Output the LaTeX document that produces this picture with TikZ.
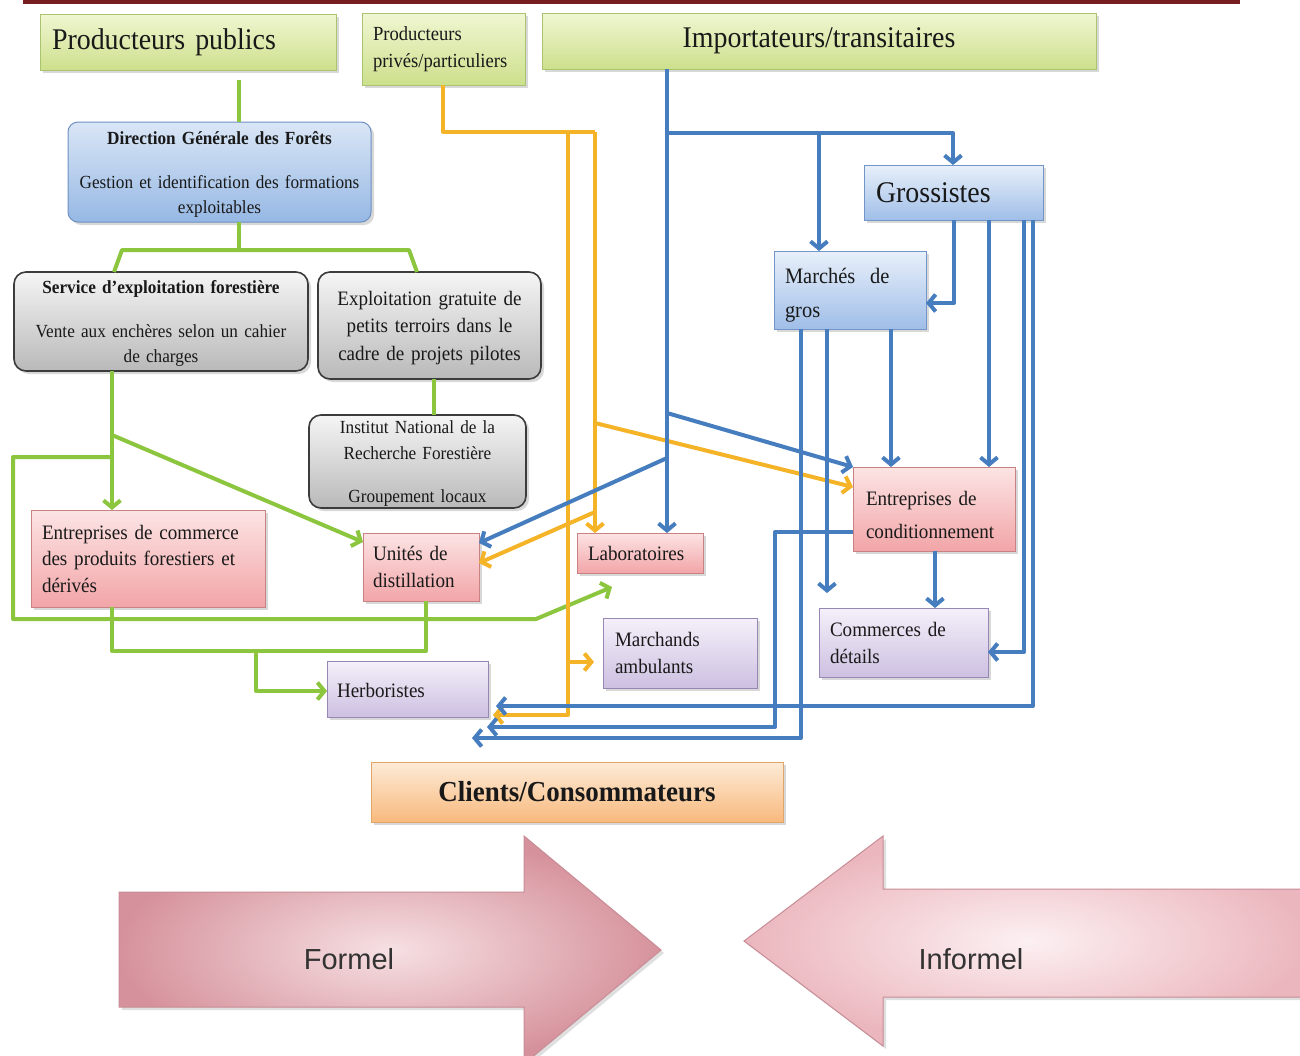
\documentclass[tikz,border=0pt]{standalone}
\usepackage{fontspec}
\setmainfont{Liberation Serif}[FakeStretch=0.93, WordSpace=0.8]
\setsansfont{Liberation Sans}
\usetikzlibrary{arrows.meta,shadows}
\definecolor{gcol}{RGB}{140,198,63}
\definecolor{ycol}{RGB}{245,180,40}
\definecolor{bcol}{RGB}{70,125,190}
\definecolor{lgT}{RGB}{240,246,210}
\definecolor{lgB}{RGB}{205,224,140}
\definecolor{lgD}{RGB}{170,195,110}
\definecolor{dgT}{RGB}{218,230,246}
\definecolor{dgB}{RGB}{150,184,228}
\definecolor{dgD}{RGB}{110,145,195}
\definecolor{gyT}{RGB}{245,245,245}
\definecolor{gyB}{RGB}{185,185,185}
\definecolor{gyD}{RGB}{60,60,60}
\definecolor{blT}{RGB}{232,240,250}
\definecolor{blB}{RGB}{160,190,232}
\definecolor{blD}{RGB}{115,150,200}
\definecolor{pkT}{RGB}{252,228,228}
\definecolor{pkB}{RGB}{242,165,168}
\definecolor{pkD}{RGB}{200,130,130}
\definecolor{puT}{RGB}{245,240,250}
\definecolor{puB}{RGB}{205,192,225}
\definecolor{puD}{RGB}{150,135,180}
\definecolor{orT}{RGB}{253,235,215}
\definecolor{orB}{RGB}{248,185,125}
\definecolor{orD}{RGB}{225,165,105}
\definecolor{hdr}{RGB}{120,30,35}
\definecolor{arIn}{RGB}{246,224,227}
\definecolor{arOut}{RGB}{214,146,156}
\definecolor{arIn2}{RGB}{252,240,242}
\definecolor{arOut2}{RGB}{235,182,189}
\definecolor{arD}{RGB}{200,140,150}
\definecolor{txt}{RGB}{25,25,25}
\tikzset{
 box/.style={inner sep=0pt, outer sep=0pt, line width=1pt, text=txt,
   drop shadow={shadow xshift=3pt,shadow yshift=-3pt,opacity=0.3}},
 lgreen/.style={box, draw=lgD, top color=lgT, bottom color=lgB},
 dgfbox/.style={box, draw=dgD, top color=dgT, bottom color=dgB, rounded corners=10pt},
 graybox/.style={box, draw=gyD, line width=1.6pt, top color=gyT, bottom color=gyB, rounded corners=12pt},
 bluebox/.style={box, draw=blD, top color=blT, bottom color=blB},
 pinkbox/.style={box, draw=pkD, top color=pkT, bottom color=pkB},
 purplebox/.style={box, draw=puD, top color=puT, bottom color=puB},
 orangebox/.style={box, draw=orD, top color=orT, bottom color=orB},
 fbig/.style={font=\fontsize{30}{36}\selectfont},
 fmid/.style={font=\fontsize{20.5}{27}\selectfont},
 fsml/.style={font=\fontsize{18.5}{25}\selectfont},
 ln/.style={line width=4pt, line join=round},
 tip/.style={-{Straight Barb[length=7pt,width=17pt]}},
 gl/.style={ln, draw=gcol}, ga/.style={gl, tip},
 yl/.style={ln, draw=ycol}, ya/.style={yl, tip},
 bl/.style={ln, draw=bcol}, ba/.style={bl, tip},
}
\begin{document}
\begin{tikzpicture}[x=1pt,y=-1pt]
\useasboundingbox (0,0) rectangle (1300,1055);
\fill[white] (0,0) rectangle (1300,1055);
\fill[hdr] (23,0) rectangle (1240,4);

% boxes
\node[lgreen, fbig, minimum width=296pt, minimum height=56pt, text width=272pt, align=left] (pp) at (188,42) {Producteurs publics};
\node[lgreen, font=\fontsize{20}{27}\selectfont, minimum width=163pt, minimum height=72pt, text width=141pt, align=left] (ppr) at (443.5,49) {Producteurs\\privés/particuliers};
\node[lgreen, fbig, minimum width=554pt, minimum height=56pt, align=center] (imp) at (819,41) {Importateurs/transitaires};

\node[dgfbox, fsml, minimum width=303pt, minimum height=100pt, text width=290pt, align=center] (dgf) at (219.5,172) {\rule{0pt}{17pt}\textbf{Direction Générale des Forêts}\\[19pt]Gestion et identification des formations\\exploitables};
\node[graybox, fsml, minimum width=294pt, minimum height=99pt, text width=282pt, align=center] (sef) at (161,321.5) {\rule{0pt}{17pt}\textbf{Service d’exploitation forestière}\\[19pt]Vente aux enchères selon un cahier\\de charges};
\node[graybox, font=\fontsize{20.5}{27.5}\selectfont, minimum width=223pt, minimum height=107pt, text width=212pt, align=center] (egr) at (429.5,325.5) {\rule{0pt}{19pt}Exploitation gratuite de\\petits terroirs dans le\\cadre de projets pilotes};
\node[graybox, font=\fontsize{18.5}{26}\selectfont, minimum width=217pt, minimum height=93pt, text width=205pt, align=center] (inrf) at (417.5,461.5) {\rule{0pt}{17pt}Institut National de la\\Recherche Forestière\\[17pt]Groupement locaux};

\node[bluebox, fbig, minimum width=179pt, minimum height=55pt, text width=155pt, align=left] (gro) at (953.5,192.5) {Grossistes};
\node[bluebox, font=\fontsize{22}{34}\selectfont, minimum width=152pt, minimum height=78pt, text width=130pt, align=left] (mdg) at (850,290) {\rule{0pt}{26pt}Marchés\ \ de\\gros};

\node[pinkbox, font=\fontsize{20.5}{33}\selectfont, minimum width=162pt, minimum height=84pt, text width=136pt, align=left] (ecd) at (934,509) {\rule{0pt}{26pt}Entreprises de\\conditionnement};
\node[pinkbox, font=\fontsize{20.5}{26.5}\selectfont, minimum width=234pt, minimum height=97pt, text width=212pt, align=left] (ecom) at (148,558.5) {Entreprises de commerce\\des produits forestiers et\\dérivés};
\node[pinkbox, fmid, minimum width=116pt, minimum height=68pt, text width=96pt, align=left] (udd) at (421,567) {Unités de\\distillation};
\node[pinkbox, fmid, minimum width=126pt, minimum height=40pt, text width=104pt, align=left] (lab) at (640,553) {Laboratoires};

\node[purplebox, fmid, minimum width=154pt, minimum height=70pt, text width=130pt, align=left] (mam) at (680,653) {Marchands\\ambulants};
\node[purplebox, fmid, minimum width=169pt, minimum height=69pt, text width=147pt, align=left] (cdd) at (903.5,642.5) {Commerces de\\détails};
\node[purplebox, fmid, minimum width=161pt, minimum height=56pt, text width=141pt, align=left] (her) at (407.5,689) {\rule{0pt}{18pt}Herboristes};

\node[orangebox, font=\fontsize{29}{34}\selectfont\bfseries, minimum width=412pt, minimum height=60pt, align=center] (cli) at (577,792) {Clients/Consommateurs};

% big arrows
\path[draw=arD, line width=1pt, inner color=arIn, outer color=arOut,
  drop shadow={shadow xshift=3pt,shadow yshift=-3pt,opacity=0.25}]
  (119,892) -- (524,892) -- (524,836) -- (661,950) -- (524,1064) -- (524,1007) -- (119,1007) -- cycle;
\path[draw=arD, line width=1pt, inner color=arIn2, outer color=arOut2,
  drop shadow={shadow xshift=3pt,shadow yshift=-3pt,opacity=0.25}]
  (1310,889) -- (883,889) -- (883,836) -- (744,941) -- (883,1046) -- (883,997) -- (1310,997) -- cycle;
\node[font=\sffamily\fontsize{29}{34}\selectfont, text=black!80] (formel) at (349,959) {Formel};
\node[font=\sffamily\fontsize{29}{34}\selectfont, text=black!80] (informel) at (971,959) {Informel};

% green connectors
\coordinate (gA) at (239,250);
\coordinate (gL) at (122,250);
\coordinate (gR) at (409,250);
\coordinate (gB) at (112,435);
\coordinate (gC) at (112,457);
\coordinate (gD) at (13,457);
\coordinate (gE) at (13,619);
\coordinate (gF) at (536,619);
\coordinate (gG) at (612,587);
\coordinate (gH) at (112,651);
\coordinate (gI) at (426,651);
\coordinate (gJ) at (256,651);
\coordinate (gK) at (256,691);
\draw[gl] ([xshift=199pt,yshift=-10pt]pp.south west) -- ([xshift=171pt]dgf.north west);
\draw[gl] ([xshift=171pt]dgf.south west) -- (gA);
\draw[gl] ([xshift=100pt]sef.north west) -- (gL) -- (gR) -- ([xshift=99pt]egr.north west);
\draw[gl] ([xshift=116pt]egr.south west) -- ([xshift=125pt]inrf.north west);
\draw[ga] ([xshift=98pt]sef.south west) -- ([xshift=81pt]ecom.north west);
\draw[ga] (gB) -- ([yshift=-9pt]udd.north west);
\draw[ga] (gC) -- (gD) -- (gE) -- (gF) -- (gG);
\draw[gl] ([xshift=81pt]ecom.south west) -- (gH) -- (gI) -- ([xshift=63pt]udd.south west);
\draw[ga] (gJ) -- (gK) -- (her.west |- gK);

% yellow connectors
\coordinate (yA) at (443,132);
\coordinate (yB) at (595,132);
\coordinate (yC) at (568,132);
\coordinate (yD) at (568,715);
\coordinate (yF) at (568,662);
\coordinate (yG) at (595,423);
\coordinate (yH) at (595,512);
\draw[yl] ([xshift=81pt]ppr.south west) -- (yA) -- (yB);
\draw[ya] (yB) -- ([xshift=18pt]lab.north west);
\draw[ya, shorten >=5pt] (yC) -- (yD) -- (her.east |- yD);
\draw[ya, shorten >=9pt] (yF) -- (mam.west |- yF);
\draw[ya] (yG) -- ([yshift=-20pt]ecd.north west);
\draw[ya] (yH) -- ([yshift=-30pt]udd.north east);

% blue connectors
\coordinate (bA) at (667,133);
\coordinate (bB) at (953,133);
\coordinate (bC) at (819,133);
\coordinate (bD) at (954,303);
\coordinate (bE) at (667,413);
\coordinate (bF) at (667,458);
\coordinate (bH) at (1024,652);
\coordinate (bI) at (1033,706);
\coordinate (bJ) at (775,532);
\coordinate (bK) at (775,727);
\coordinate (bL) at (487,727);
\coordinate (bM) at (801,738);
\coordinate (bN) at (472,738);
\draw[ba] ([xshift=125pt]imp.south west) -- ([xshift=90pt]lab.north west);
\draw[ba] (bA) -- (bB) -- (gro.north -| bB);
\draw[ba] (bC) -- (mdg.north -| bC);
\draw[ba] (gro.south -| bD) -- (bD) -- (mdg.east |- bD);
\draw[ba] (bE) -- (ecd.north west);
\draw[ba] (bF) -- ([yshift=-10pt]udd.north east);
\draw[ba] ([xshift=117pt]mdg.south west) -- ([xshift=38pt]ecd.north west);
\draw[ba] ([xshift=125pt]gro.south west) -- ([xshift=136pt]ecd.north west);
\draw[ba, shorten >=15pt] ([xshift=53pt]mdg.south west) -- ([xshift=8pt]cdd.north west);
\draw[ba] ([xshift=82pt]ecd.south west) -- ([xshift=116pt]cdd.north west);
\draw[ba] ([xshift=160pt]gro.south west) -- (bH) -- (cdd.east |- bH);
\draw[ba, shorten >=8pt] ([xshift=169pt]gro.south west) -- (bI) -- (her.east |- bI);
\draw[ba] (ecd.west |- bJ) -- (bJ) -- (bK) -- (bL);
\draw[ba] ([xshift=27pt]mdg.south west) -- (bM) -- (bN);
\end{tikzpicture}
\end{document}
